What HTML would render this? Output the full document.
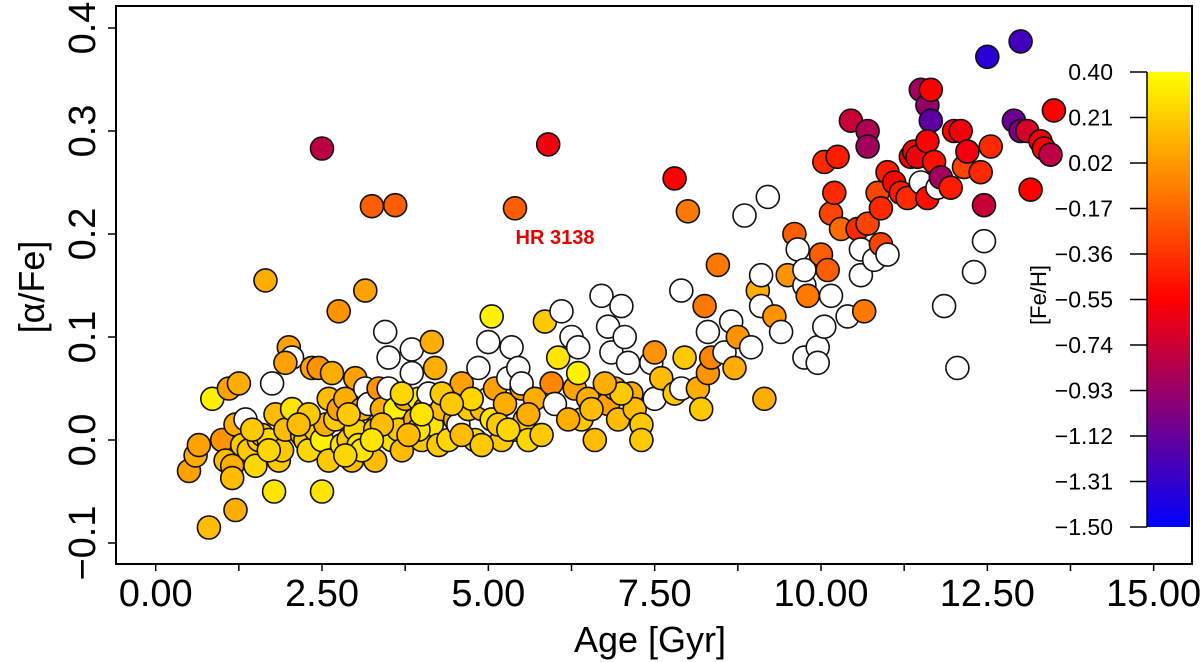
<!DOCTYPE html>
<html><head><meta charset="utf-8"><style>
html,body{margin:0;padding:0;background:#fff;}
svg{display:block;font-family:"Liberation Sans",Arial,sans-serif;}
</style></head><body>
<svg id="chart" width="1200" height="662" viewBox="0 0 1200 662" xmlns="http://www.w3.org/2000/svg">
<defs>
<linearGradient id="cbgrad" x1="0" y1="0" x2="0" y2="1">
<stop offset="0" stop-color="#ffff00"/><stop offset="0.5" stop-color="#ff0000"/><stop offset="1" stop-color="#0000ff"/>
</linearGradient>
</defs>
<g id="points"></g>
<rect x="116" y="6" width="1076" height="558" fill="none" stroke="#000" stroke-width="2"/>
<g id="xaxis"></g>
<g id="yaxis"></g>
<text x="650" y="652" font-size="36" text-anchor="middle">Age [Gyr]</text>
<text transform="translate(44,287) rotate(-90)" font-size="36" text-anchor="middle">[α/Fe]</text>
<text x="555" y="244" font-size="20" font-weight="bold" fill="#e60000" text-anchor="middle">HR 3138</text>
<g id="colorbar">
<rect x="1147" y="72" width="43" height="455" fill="url(#cbgrad)"/>
<line x1="1147" y1="72" x2="1147" y2="527" stroke="#000" stroke-width="1.5"/>
</g>
<text transform="translate(1046,295) rotate(-90)" font-size="22" text-anchor="middle">[Fe/H]</text>
</svg>
<script>
const ages=[0.5,0.6,0.65,0.8,0.85,1.0,1.05,1.1,1.15,1.15,1.2,1.2,1.25,1.3,1.35,1.4,1.5,1.55,1.6,1.65,1.7,1.75,1.78,1.8,1.85,1.9,1.95,2.0,2.05,2.05,1.95,2.2,2.25,2.3,2.35,2.4,2.45,2.5,2.5,2.5,2.55,2.6,2.6,2.65,2.7,2.75,2.75,
2.8,2.85,2.9,2.95,3.0,3.0,3.05,3.1,3.15,3.15,3.2,3.25,3.3,3.3,3.35,3.4,3.45,3.5,3.5,3.55,3.6,3.6,3.65,3.7,3.75,3.85,3.85,3.9,3.95,4.0,4.05,4.1,4.15,4.15,4.2,4.25,4.3,4.4,4.5,4.55,4.6,4.7,4.8,4.85,4.9,5.0,5.0,5.05,5.05,5.1,5.2,5.25,5.3,5.35,5.4,5.4,5.45,5.5,5.5,5.55,5.6,5.7,5.8,5.85,5.9,5.95,6.0,6.05,6.1,6.25,6.3,6.35,6.35,6.4,6.5,6.6,6.7,6.8,6.8,6.85,6.9,6.95,7.0,7.05,7.1,7.15,7.2,7.3,7.3,7.45,7.5,7.5,7.6,7.8,7.8,7.9,7.9,7.95,8.0,8.15,8.2,8.25,8.3,8.3,8.35,8.45,8.55,8.65,8.7,8.75,8.85,8.95,9.05,9.1,9.1,9.15,9.2,9.3,9.4,9.5,9.6,9.65,9.75,9.75,9.75,9.8,9.95,9.95,10.0,10.05,10.05,10.1,10.15,10.15,10.2,10.25,10.3,10.4,10.45,10.55,10.6,10.6,10.65,10.7,10.7,10.7,10.8,10.85,10.9,10.9,11.0,11.0,11.1,11.2,11.3,11.35,11.4,11.45,11.5,11.5,11.6,11.6,11.65,11.6,11.65,11.7,11.75,11.8,11.85,11.95,12.0,12.05,12.1,12.15,12.2,12.3,12.4,12.45,12.45,12.5,12.55,12.9,13.0,13.0,13.1,13.15,13.3,13.35,13.45,13.5,
2.9,3.1,3.4,3.7,3.95,4.3,4.6,4.75,5.15,5.6,2.3,2.85,3.25,3.8,4.45,6.2,6.55,7.0,1.45,1.7,2.15,4.0,4.9,5.3,6.75];
const alphas=[-0.03,-0.015,-0.005,-0.085,0.04,0.0,-0.02,0.05,-0.025,-0.037,-0.068,0.015,0.055,-0.005,0.02,-0.01,-0.025,0.0,0.005,0.155,0.0,0.055,-0.05,0.025,-0.02,-0.01,0.01,0.09,0.08,0.03,0.075,0.005,0.0,-0.01,0.07,0.01,0.07,-0.05,0.0,0.283,0.015,0.04,-0.02,0.065,0.02,0.125,0.03,
-0.005,0.04,0.0,-0.02,0.01,0.06,-0.005,0.03,0.145,0.05,0.035,0.227,-0.02,0.01,0.05,0.03,0.105,0.08,0.05,0.0,0.228,0.03,0.01,-0.01,0.04,0.088,0.065,0.02,0.04,0.0,0.03,0.045,0.095,0.015,0.07,-0.005,0.03,0.0,0.02,0.015,0.055,0.03,0.0,0.07,0.03,0.095,0.04,0.12,0.02,0.05,0.0,0.035,0.06,0.09,0.225,0.01,0.07,0.05,0.055,0.02,0.0,0.04,0.005,0.115,0.287,0.055,0.035,0.08,0.125,0.1,0.05,0.065,0.09,0.02,0.04,0.0,0.14,0.11,0.035,0.085,0.05,0.02,0.13,0.1,0.075,0.045,0.03,0.015,0.0,0.075,0.085,0.04,0.06,0.254,0.045,0.145,0.05,0.08,0.222,0.05,0.03,0.13,0.105,0.065,0.08,0.17,0.085,0.115,0.07,0.1,0.218,0.09,0.145,0.16,0.13,0.04,0.236,0.12,0.105,0.16,0.2,0.185,0.08,0.15,0.165,0.14,0.09,0.075,0.18,0.11,0.27,0.165,0.14,0.22,0.24,0.275,0.205,0.12,0.31,0.205,0.16,0.185,0.125,0.3,0.21,0.285,0.175,0.24,0.19,0.225,0.18,0.26,0.25,0.24,0.235,0.275,0.28,0.275,0.34,0.25,0.235,0.325,0.31,0.29,0.34,0.27,0.245,0.255,0.13,0.245,0.3,0.07,0.3,0.265,0.28,0.163,0.26,0.193,0.228,0.372,0.285,0.31,0.387,0.3,0.3,0.243,0.29,0.283,0.277,0.32,
0.025,-0.01,0.015,0.045,0.01,0.045,0.005,0.04,0.015,0.025,0.025,-0.015,0.0,0.005,0.035,0.02,0.03,0.045,0.01,-0.01,0.015,0.025,-0.005,0.01,0.055];
const fehs=[0.05,0.1,0.05,0.15,0.35,0.0,0.15,0.05,0.1,0.15,0.1,0.1,0.1,0.2,null,0.2,0.25,0.2,0.15,0.1,0.25,null,0.3,0.15,0.2,0.2,0.15,0.05,null,0.3,0.05,0.15,0.2,0.25,0.05,0.2,0.0,0.3,0.35,-0.8,0.1,0.15,0.2,0.1,0.2,0.0,0.05,
0.3,0.1,0.2,0.15,0.25,0.05,0.3,0.1,0.05,null,null,-0.2,0.15,0.2,0.0,0.1,null,null,null,0.3,-0.2,0.35,0.2,0.15,0.1,null,null,0.1,0.35,0.2,0.05,null,0.1,0.3,0.1,0.2,0.15,0.25,0.1,null,0.05,0.2,0.25,null,0.15,null,null,0.35,0.3,0.05,0.2,0.1,null,null,-0.2,0.15,null,0.05,null,0.2,0.25,0.1,0.2,0.2,-0.6,-0.05,null,0.3,null,null,0.05,0.35,null,0.2,0.1,0.15,null,null,0.05,null,0.1,0.15,null,null,null,0.1,0.15,0.2,0.2,null,0.0,null,0.15,-0.55,0.2,null,null,0.2,-0.1,0.1,0.2,-0.1,null,0.0,-0.05,-0.1,null,null,0.1,0.0,null,null,0.1,null,null,0.1,null,0.0,null,0.0,-0.2,null,null,null,null,-0.1,null,null,-0.2,null,-0.4,-0.2,null,-0.3,-0.4,-0.45,-0.15,null,-0.75,-0.4,null,null,-0.1,-0.85,-0.3,-0.9,null,-0.3,-0.3,-0.4,null,-0.45,-0.55,-0.45,-0.4,-0.55,-0.55,-0.6,-0.9,null,-0.5,-0.95,-1.15,-0.55,-0.55,-0.5,null,-0.9,null,-0.45,-0.55,null,-0.6,-0.3,-0.6,null,-0.4,null,-0.75,-1.35,-0.4,-1.1,-1.25,-1.05,-0.7,-0.55,-0.6,-0.55,-0.8,-0.55,
0.2,0.3,0.15,0.25,0.3,0.2,0.15,0.25,0.2,0.1,0.2,0.25,0.3,0.15,0.2,0.1,0.15,0.2,0.2,0.25,0.15,0.3,0.2,0.25,0.1];
const xTicks=[0,2.5,5,7.5,10,12.5,15];
const xTickLabels=["0.00","2.50","5.00","7.50","10.00","12.50","15.00"];
const yTicks=[-0.1,0,0.1,0.2,0.3,0.4];
const yTickLabels=["−0.1","0.0","0.1","0.2","0.3","0.4"];
const cbTicks=[0.40,0.21,0.02,-0.17,-0.36,-0.55,-0.74,-0.93,-1.12,-1.31,-1.50];

const NS="http://www.w3.org/2000/svg";
const X=a=>155.7+a*66.53;
const Y=v=>440-v*1030;
const CB=f=>72+(0.40-f)/1.90*455;
function mk(tag,attrs,parent){const e=document.createElementNS(NS,tag);for(const k in attrs)e.setAttribute(k,attrs[k]);parent.appendChild(e);return e;}
function color(f){
  const t=(0.40-f)/1.90;let r,g,b;
  if(t<=0.5){const u=t/0.5;r=255;g=Math.round(255*(1-u));b=0;}
  else{const u=(t-0.5)/0.5;r=Math.round(255*(1-u));g=0;b=Math.round(255*u);}
  return `rgb(${r},${g},${b})`;
}
const pg=document.getElementById('points');
for(let i=0;i<ages.length;i++){
  const c=mk('circle',{cx:X(ages[i]).toFixed(1),cy:Y(alphas[i]).toFixed(1),r:11.5,fill:fehs[i]===null?'#ffffff':color(fehs[i]),stroke:'#111','stroke-width':1.6},pg);
  
  
}
const xg=document.getElementById('xaxis');
for(let v=0;v<=15.001;v+=1.25){
  mk('line',{x1:X(v),y1:564,x2:X(v),y2:571,stroke:'#000','stroke-width':1.5},xg);
}
xTicks.forEach((v,i)=>{
  const t=mk('text',{x:X(v),y:606,'font-size':38,'text-anchor':'middle'},xg);
  t.textContent=xTickLabels[i];
  
  
});
const yg=document.getElementById('yaxis');
yTicks.forEach((v,i)=>{
  mk('line',{x1:108,y1:Y(v),x2:116,y2:Y(v),stroke:'#000','stroke-width':1.5},yg);
  const t=mk('text',{transform:`translate(95,${Y(v)}) rotate(-90)`,'font-size':38,'text-anchor':'middle'},yg);
  t.textContent=yTickLabels[i];
  
  
});
const cg=document.getElementById('colorbar');
cbTicks.forEach(v=>{
  mk('line',{x1:1130,y1:CB(v),x2:1147,y2:CB(v),stroke:'#000','stroke-width':1.5},cg);
  const t=mk('text',{x:1113,y:CB(v)+8,'font-size':23,'text-anchor':'end'},cg);
  t.textContent=(v<0?'−':'')+Math.abs(v).toFixed(2);
  
  
});
</script>
</body></html>
